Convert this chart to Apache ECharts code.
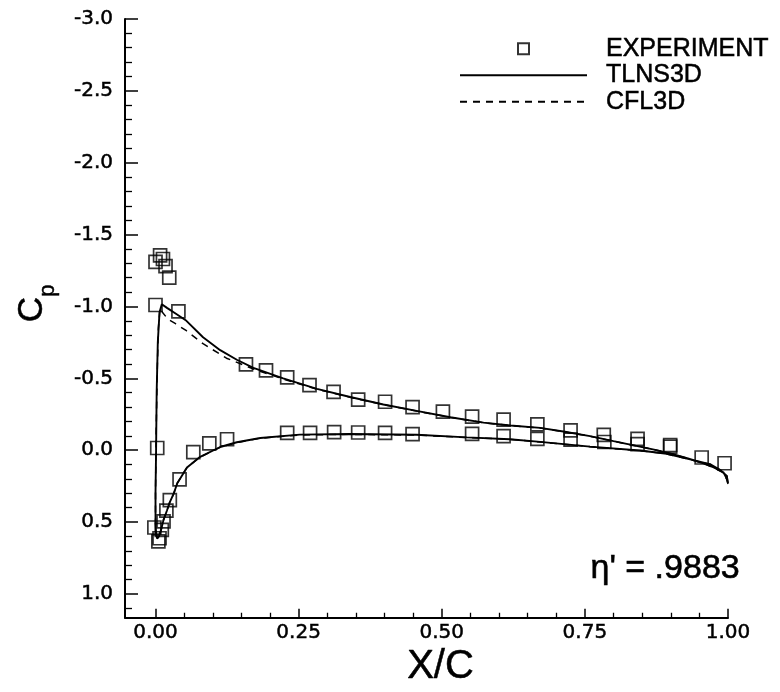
<!DOCTYPE html>
<html>
<head>
<meta charset="utf-8">
<script src="https://cdn.jsdelivr.net/npm/echarts@6/dist/echarts.min.js"></script>
<style>
html,body{margin:0;padding:0;background:#fff;}
#chart{width:780px;height:692px;}
</style>
</head>
<body>
<div id="chart"></div>
<script>
// ---- data (x/c, Cp) ----
const experimentUpper = [
  [0.000,-1.010],[0.000,-1.310],[0.008,-1.355],[0.013,-1.330],[0.0175,-1.280],[0.024,-1.200],
  [0.040,-0.966],[0.158,-0.597],[0.193,-0.555],[0.230,-0.507],[0.269,-0.453],[0.311,-0.406],
  [0.354,-0.352],[0.401,-0.337],[0.449,-0.300],[0.502,-0.268],[0.553,-0.233],[0.608,-0.212],
  [0.667,-0.179],[0.725,-0.138],[0.783,-0.106],[0.842,-0.078],[0.899,-0.036],[0.954,0.051],[0.994,0.091]
];
const experimentLower = [
  [0.003,-0.015],[-0.002,0.538],[0.005,0.634],[0.007,0.613],[0.011,0.554],[0.014,0.496],
  [0.019,0.420],[0.025,0.347],[0.042,0.203],[0.066,0.014],[0.094,-0.047],[0.125,-0.076],
  [0.230,-0.121],[0.270,-0.121],[0.312,-0.125],[0.354,-0.123],[0.401,-0.121],[0.449,-0.111],
  [0.553,-0.114],[0.608,-0.098],[0.667,-0.078],[0.725,-0.074],[0.784,-0.057],[0.842,-0.042],[0.899,-0.025]
];
const tlns3d = [
  [1.000,0.230],[0.998,0.200],[0.992,0.154],[0.975,0.120],[0.957,0.091],[0.930,0.058],[0.904,0.028],
  [0.875,0.000],[0.846,-0.025],[0.800,-0.063],[0.759,-0.098],[0.715,-0.128],[0.672,-0.155],[0.620,-0.172],
  [0.573,-0.192],[0.515,-0.229],[0.456,-0.273],[0.398,-0.318],[0.340,-0.370],[0.282,-0.426],[0.223,-0.499],
  [0.171,-0.573],[0.142,-0.629],[0.113,-0.696],[0.083,-0.786],[0.054,-0.900],[0.037,-0.946],[0.020,-0.990],
  [0.011,-1.016],[0.007,-0.960],[0.004,-0.750],[0.002,-0.400],[0.001,0.000],[0.000,0.300],[0.000,0.500],
  [0.001,0.580],[0.003,0.615],[0.006,0.600],[0.010,0.550],[0.014,0.485],[0.020,0.420],[0.025,0.361],
  [0.032,0.300],[0.038,0.230],[0.055,0.120],[0.078,0.046],[0.113,-0.022],[0.142,-0.055],[0.183,-0.085],
  [0.252,-0.108],[0.340,-0.112],[0.456,-0.107],[0.544,-0.089],[0.619,-0.076],[0.672,-0.058],[0.759,-0.025],
  [0.846,0.002],[0.893,0.025],[0.945,0.075],[0.970,0.100],[0.986,0.136],[0.998,0.180],[1.000,0.230]
];
const cfl3d = [
  [1.000,0.235],[0.998,0.205],[0.992,0.158],[0.975,0.122],[0.957,0.092],[0.930,0.058],[0.904,0.028],
  [0.875,0.000],[0.846,-0.025],[0.800,-0.062],[0.759,-0.097],[0.715,-0.127],[0.672,-0.154],[0.620,-0.171],
  [0.573,-0.191],[0.515,-0.228],[0.456,-0.272],[0.398,-0.317],[0.340,-0.368],[0.282,-0.424],[0.223,-0.495],
  [0.171,-0.565],[0.159,-0.584],[0.124,-0.640],[0.083,-0.741],[0.054,-0.831],[0.035,-0.880],[0.022,-0.910],
  [0.012,-0.960],[0.008,-0.990],[0.005,-0.850],[0.003,-0.550],[0.001,-0.100],[0.000,0.300],[0.000,0.500],
  [0.001,0.580],[0.003,0.615],[0.006,0.600],[0.010,0.550],[0.014,0.485],[0.020,0.420],[0.025,0.361],
  [0.032,0.300],[0.038,0.230],[0.055,0.120],[0.078,0.048],[0.113,-0.020],[0.142,-0.053],[0.183,-0.083],
  [0.252,-0.106],[0.340,-0.110],[0.456,-0.105],[0.544,-0.088],[0.619,-0.075],[0.672,-0.057],[0.759,-0.024],
  [0.846,0.003],[0.893,0.026],[0.945,0.076],[0.970,0.100],[0.986,0.137],[0.998,0.180],[1.000,0.235]
];
const xMajorTicks = [0, 0.25, 0.5, 0.75, 1.0];
const xMinorTicks = [0.05,0.10,0.15,0.20,0.30,0.35,0.40,0.45,0.55,0.60,0.65,0.70,0.80,0.85,0.90,0.95];
const yMajorTicks = [-3.0,-2.5,-2.0,-1.5,-1.0,-0.5,0.0,0.5,1.0];
const yMinorTicks = [-2.9,-2.8,-2.7,-2.6,-2.4,-2.3,-2.2,-2.1,-1.9,-1.8,-1.7,-1.6,-1.4,-1.3,-1.2,-1.1,
  -0.9,-0.8,-0.7,-0.6,-0.4,-0.3,-0.2,-0.1,0.1,0.2,0.3,0.4,0.6,0.7,0.8,0.9,1.1];
const seriesNames = ['EXPERIMENT','TLNS3D','CFL3D'];
const annotation = "\u03b7' = .9883";

// ---- chart ----
const X_MIN = -0.0533, X_MAX = 1.0, Y_MIN = -3.0, Y_MAX = 1.166;
const LABEL_FONT = 'DejaVu Sans';
const INK = {color:'#000', textBorderColor:'#000', textBorderWidth:0.5};
const chart = echarts.init(document.getElementById('chart'), null, {renderer:'canvas'});
const axisBase = {
  type:'value', splitLine:{show:false}, axisPointer:{show:false}
};
chart.setOption({
  backgroundColor:'#fff',
  animation:false,
  grid:{left:125, right:52, top:19, bottom:56, containLabel:false},
  legend:{
    orient:'vertical', left:454, top:31, itemWidth:127, itemHeight:11, itemGap:1,
    textStyle:Object.assign({fontSize:25, fontFamily:'Liberation Sans', lineHeight:25, padding:[0,0,0,14]}, INK),
    data:[
      {name:seriesNames[0], icon:'path://M0,0L10,0L10,10L0,10Z'},
      {name:seriesNames[1]},
      {name:seriesNames[2]}
    ]
  },
  xAxis:[
    Object.assign({}, axisBase, {
      min:X_MIN, max:X_MAX, position:'bottom',
      axisLine:{show:true, onZero:false, lineStyle:{color:'#000', width:2}},
      axisTick:{show:true, inside:true, length:9, customValues:xMajorTicks, lineStyle:{color:'#000', width:1.5}},
      axisLabel:Object.assign({customValues:xMajorTicks, formatter:(v)=>v.toFixed(2), fontSize:20, fontFamily:LABEL_FONT, margin:5}, INK),
      name:'X/C', nameLocation:'middle', nameGap:29, nameMoveOverlap:false,
      nameTextStyle:Object.assign({fontSize:40, fontFamily:'Liberation Sans', padding:[0,0,0,28], verticalAlign:'top'}, INK)
    }),
    Object.assign({}, axisBase, {
      min:X_MIN, max:X_MAX, position:'bottom',
      axisLine:{show:false, onZero:false},
      axisTick:{show:true, inside:true, length:5, customValues:xMinorTicks, lineStyle:{color:'#000', width:1.3}},
      axisLabel:{show:false}
    })
  ],
  yAxis:[
    Object.assign({}, axisBase, {
      min:Y_MIN, max:Y_MAX, inverse:true, position:'left',
      axisLine:{show:true, onZero:false, lineStyle:{color:'#000', width:2}},
      axisTick:{show:true, inside:true, length:13, customValues:yMajorTicks, lineStyle:{color:'#000', width:1.5}},
      axisLabel:Object.assign({customValues:yMajorTicks, formatter:(v)=>v.toFixed(1), fontSize:20, fontFamily:LABEL_FONT, margin:12}, INK),
      name:'{c|C}{p|p}', nameLocation:'middle', nameGap:66, nameRotate:90, nameMoveOverlap:false,
      nameTextStyle:{
        padding:[0,0,0,30],
        rich:{
          c:Object.assign({fontSize:35, fontFamily:'Liberation Sans', lineHeight:35, padding:[0,0,9,0], verticalAlign:'bottom'}, INK),
          p:Object.assign({fontSize:22, fontFamily:'Liberation Sans', lineHeight:22, verticalAlign:'bottom'}, INK)
        }
      }
    }),
    Object.assign({}, axisBase, {
      min:Y_MIN, max:Y_MAX, inverse:true, position:'left',
      axisLine:{show:false, onZero:false},
      axisTick:{show:true, inside:true, length:7, customValues:yMinorTicks, lineStyle:{color:'#000', width:1.3}},
      axisLabel:{show:false}
    })
  ],
  graphic:[{
    type:'text', right:40, top:551,
    style:{text:annotation, font:'34px "Liberation Sans"', fill:'#000', stroke:'#000', lineWidth:0.6}
  }],
  series:[
    {
      name:seriesNames[0], type:'scatter', xAxisIndex:0, yAxisIndex:0,
      data: experimentUpper.concat(experimentLower),
      symbol:'rect', symbolSize:13,
      itemStyle:{color:'rgba(0,0,0,0)', borderColor:'#000', borderWidth:1.7},
      z:3
    },
    {
      name:seriesNames[1], type:'line', xAxisIndex:0, yAxisIndex:0,
      data: tlns3d, showSymbol:false, symbol:'none', smooth:false,
      lineStyle:{color:'#000', width:1.9, type:'solid'},
      itemStyle:{color:'rgba(0,0,0,0)', borderWidth:0}, z:2
    },
    {
      name:seriesNames[2], type:'line', xAxisIndex:0, yAxisIndex:0,
      data: cfl3d, showSymbol:false, symbol:'none', smooth:false,
      lineStyle:{color:'#000', width:1.5, type:[7,6]},
      itemStyle:{color:'rgba(0,0,0,0)', borderWidth:0}, z:2
    }
  ]
});
</script>
</body>
</html>
